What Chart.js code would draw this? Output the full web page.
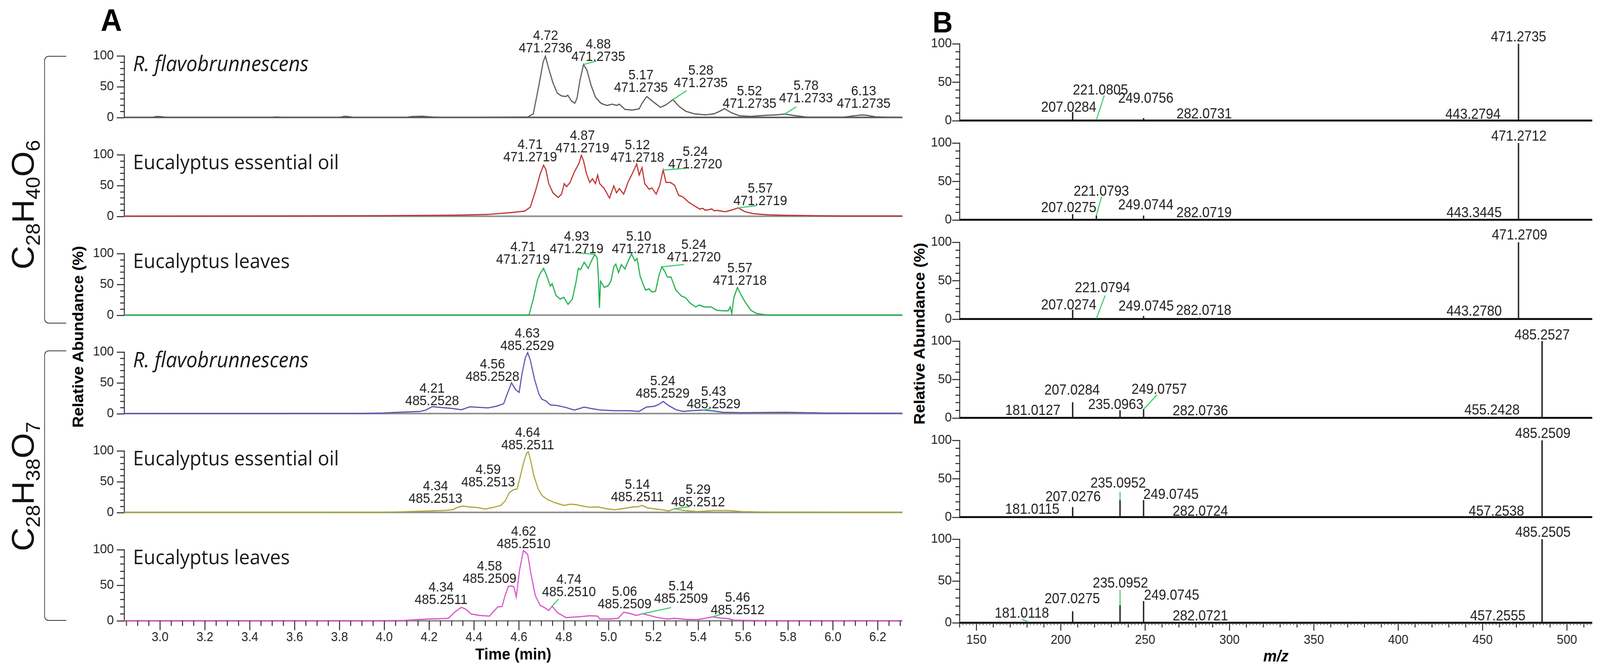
<!DOCTYPE html>
<html><head><meta charset="utf-8">
<script src="https://cdn.jsdelivr.net/npm/chart.js@4.4.1/dist/chart.umd.min.js"></script>
<style>
html,body{margin:0;padding:0;background:#fff;overflow:hidden;}
#fig{position:relative;width:4342px;height:1720px;overflow:hidden;background:#fff;transform-origin:0 0;}
canvas{position:absolute;}
.t{position:absolute;white-space:nowrap;color:#111;}
.s{font-size:62%;position:relative;top:0.32em;}
.br{position:absolute;border:2.5px solid #333;border-right:none;border-radius:12px 0 0 12px;}
</style></head><body><div id="fig"></div>
<script>
// ---------- DATA ----------
const timeTicks = [3.0,3.2,3.4,3.6,3.8,4.0,4.2,4.4,4.6,4.8,5.0,5.2,5.4,5.6,5.8,6.0,6.2];
const mzTicks = [150,200,250,300,350,400,450,500];
const abundanceTicks = [0,50,100];
const sampleNames = ["R. flavobrunnescens","Eucalyptus essential oil","Eucalyptus leaves","R. flavobrunnescens","Eucalyptus essential oil","Eucalyptus leaves"];
const formulaA = "C<span class='s'>28</span>H<span class='s'>40</span>O<span class='s'>6</span>";
const formulaB = "C<span class='s'>28</span>H<span class='s'>38</span>O<span class='s'>7</span>";

// chromatograms: [time (min), relative abundance (%)]
const traceA1 = [[2.84,0],[2.97,0],[2.98,1.5],[3.00,1.5],[3.02,0.5],[3.03,0],[3.50,0],[3.52,0.8],[3.54,0],[3.80,0],[3.82,1.8],[3.84,1.5],[3.86,0],[4.10,0],[4.12,1.5],[4.17,2],[4.22,0.5],[4.25,0],[4.40,0],[4.50,0.3],[4.60,0.5],[4.64,0.8],[4.664,5.9],[4.689,52],[4.708,90],[4.718,99.4],[4.733,79],[4.752,56],[4.771,39.5],[4.790,35],[4.809,34],[4.818,36],[4.834,27],[4.849,23],[4.859,31],[4.872,60],[4.888,86],[4.903,77],[4.922,52],[4.941,33],[4.966,23],[4.991,19.5],[5.017,21.6],[5.035,19.5],[5.048,21.6],[5.073,13],[5.105,12],[5.136,14],[5.149,23],[5.170,34],[5.193,27],[5.231,16.4],[5.256,20.6],[5.287,29],[5.312,18.5],[5.344,10],[5.382,5.9],[5.432,4.2],[5.470,5.9],[5.495,10],[5.516,14.3],[5.545,8],[5.583,2.7],[5.633,1.7],[5.697,3.4],[5.747,4.2],[5.785,5.5],[5.835,2.7],[5.885,0.6],[5.950,0.4],[6.050,0.5],[6.100,3],[6.130,4],[6.150,3.5],[6.190,1],[6.250,0.3],[6.310,0]];
const traceA2 = [[2.84,0.3],[3.5,0.5],[4.0,1],[4.2,1.5],[4.336,2],[4.462,3],[4.563,6],[4.626,8.4],[4.651,15],[4.676,44],[4.695,69],[4.710,83],[4.720,76],[4.733,53],[4.752,38],[4.775,30.5],[4.790,36],[4.802,53],[4.812,48],[4.828,55],[4.847,72],[4.859,80],[4.868,86],[4.878,99],[4.888,90.5],[4.901,69],[4.916,55],[4.928,61],[4.941,53],[4.951,67],[4.960,53],[4.979,46],[5.004,29.5],[5.023,49.5],[5.035,38],[5.048,45],[5.067,36],[5.086,55],[5.105,69],[5.125,85],[5.136,67],[5.149,79],[5.161,53],[5.180,44],[5.193,46],[5.212,36],[5.228,50.5],[5.243,75],[5.256,55],[5.275,55],[5.294,50.5],[5.312,34],[5.331,31.6],[5.356,23],[5.382,17],[5.407,11.6],[5.42,13],[5.43,10],[5.445,10.5],[5.46,12],[5.47,9],[5.483,9.5],[5.520,7.4],[5.552,10.5],[5.577,13.7],[5.608,7.4],[5.646,4.2],[5.709,2.5],[5.785,1.7],[5.911,1],[6.05,0.6],[6.31,0.5]];
const traceA3 = [[2.84,0],[4.64,0],[4.645,0.5],[4.664,26],[4.683,57.5],[4.695,68],[4.710,76],[4.724,64],[4.740,47],[4.748,51],[4.765,32],[4.784,26],[4.800,29],[4.819,17.5],[4.838,26],[4.853,51],[4.865,76],[4.875,74],[4.891,86],[4.909,76],[4.922,87],[4.938,98.5],[4.949,93],[4.954,64],[4.959,12],[4.964,55],[4.981,45],[4.998,48],[5.010,55],[5.023,78.5],[5.032,83],[5.044,69],[5.057,82],[5.073,75],[5.086,87],[5.102,99.6],[5.117,88],[5.127,92],[5.140,64],[5.155,49],[5.165,40.6],[5.180,42.7],[5.193,37.5],[5.209,38.5],[5.224,64],[5.237,78.5],[5.249,72],[5.262,61.7],[5.278,61.7],[5.300,40.6],[5.325,31],[5.344,28],[5.363,19.6],[5.388,13.3],[5.404,16.4],[5.426,13.3],[5.457,13.3],[5.482,8],[5.508,7],[5.533,7],[5.542,13.3],[5.549,2.7],[5.558,28],[5.574,45],[5.589,34],[5.608,21.7],[5.634,8],[5.659,2.7],[5.697,0.6],[5.72,0],[6.31,0]];
const traceA4 = [[2.84,0],[3.9,0.3],[4.0,1],[4.05,2],[4.085,2.5],[4.160,3.6],[4.185,5.7],[4.213,11.3],[4.248,10],[4.299,8.4],[4.343,6.3],[4.381,11],[4.425,10],[4.462,9.2],[4.500,12],[4.532,16],[4.550,34],[4.567,50],[4.585,39],[4.601,34.5],[4.614,65.5],[4.629,91],[4.639,99],[4.651,86.6],[4.670,55],[4.689,32],[4.702,23.5],[4.721,20.4],[4.740,14],[4.771,13],[4.809,10],[4.847,5.7],[4.891,10.5],[4.928,7.8],[4.966,5.7],[5.029,4.6],[5.092,4.6],[5.136,3.6],[5.168,10.5],[5.205,12],[5.224,15],[5.243,19.7],[5.268,13],[5.300,6.3],[5.331,3.6],[5.369,4.6],[5.420,5.7],[5.470,4.2],[5.508,2.1],[5.596,1.5],[5.785,2.1],[5.974,0.8],[6.31,0.5]];
const traceA5 = [[2.84,0],[4.0,0.3],[4.085,1],[4.198,2.4],[4.261,3],[4.305,4.4],[4.330,8.8],[4.349,10.4],[4.381,8.8],[4.412,8],[4.450,5.4],[4.488,8.4],[4.519,11.4],[4.538,18.4],[4.557,32],[4.576,37],[4.592,38],[4.603,54],[4.620,80],[4.635,97],[4.642,98.6],[4.654,82],[4.666,60],[4.686,38],[4.704,27],[4.727,21],[4.752,17],[4.777,14],[4.802,11.4],[4.828,13.4],[4.853,12.8],[4.884,10.4],[4.916,8.4],[4.954,9],[4.991,6],[5.029,4.4],[5.067,6.4],[5.105,8.8],[5.130,9.2],[5.149,11.4],[5.174,7.4],[5.212,5.4],[5.243,4],[5.268,2.4],[5.293,6],[5.331,3.4],[5.394,1.4],[5.470,3],[5.533,3],[5.596,1.4],[5.722,0.4],[6.31,0.3]];
const traceA6 = [[2.84,0.3],[4.0,0.3],[4.085,0.6],[4.198,2.6],[4.248,3],[4.286,3.6],[4.311,11.6],[4.343,19],[4.362,16.6],[4.387,9.6],[4.425,7.6],[4.469,6.6],[4.488,13.6],[4.506,19.6],[4.525,20],[4.538,35.5],[4.553,48.5],[4.569,49],[4.578,47.5],[4.588,33.5],[4.603,71.5],[4.620,99],[4.639,93.4],[4.654,65.5],[4.673,35.5],[4.695,21.6],[4.714,18.6],[4.733,14.6],[4.748,20.6],[4.771,11.6],[4.809,4.6],[4.865,5.6],[4.916,7.2],[4.951,6.6],[4.960,2.6],[5.004,2.6],[5.042,3.6],[5.067,12],[5.092,10.6],[5.124,7.6],[5.152,10],[5.180,7.6],[5.218,4.6],[5.262,2.6],[5.293,3.6],[5.344,2],[5.394,1.6],[5.432,3.6],[5.463,5.6],[5.495,4],[5.533,3.2],[5.558,1],[5.621,0.6],[5.7,0.3],[6.31,0.3]];

// chromatogram peak annotations: retention time text, m/z text, apex [time, abundance]
const rtA1 = ["4.72","4.88","5.17","5.28","5.52","5.78","6.13"];
const mzA1 = ["471.2736","471.2735","471.2735","471.2735","471.2735","471.2733","471.2735"];
const apexA1 = [[4.719,99.4],[4.888,86],[5.170,34],[5.287,29],[5.516,14.3],[5.785,5.5],[6.13,4]];
const rtA2 = ["4.71","4.87","5.12","5.24","5.57"];
const mzA2 = ["471.2719","471.2719","471.2718","471.2720","471.2719"];
const apexA2 = [[4.710,83],[4.878,99],[5.125,85],[5.243,75],[5.577,13.7]];
const rtA3 = ["4.71","4.93","5.10","5.24","5.57"];
const mzA3 = ["471.2719","471.2719","471.2718","471.2720","471.2718"];
const apexA3 = [[4.710,76],[4.938,98.5],[5.102,99.6],[5.237,78.5],[5.574,45]];
const rtA4 = ["4.21","4.56","4.63","5.24","5.43"];
const mzA4 = ["485.2528","485.2528","485.2529","485.2529","485.2529"];
const apexA4 = [[4.213,11.3],[4.567,50],[4.639,99],[5.243,19.7],[5.420,5.7]];
const rtA5 = ["4.34","4.59","4.64","5.14","5.29"];
const mzA5 = ["485.2513","485.2513","485.2511","485.2511","485.2512"];
const apexA5 = [[4.349,10.4],[4.592,38],[4.642,98.6],[5.149,11.4],[5.293,6]];
const rtA6 = ["4.34","4.58","4.62","4.74","5.06","5.14","5.46"];
const mzA6 = ["485.2511","485.2509","485.2510","485.2510","485.2509","485.2509","485.2512"];
const apexA6 = [[4.343,19],[4.569,49],[4.620,99],[4.748,20.6],[5.067,12],[5.152,10],[5.463,5.6]];

// mass spectra: [m/z, relative abundance (%)]
const sticksB1 = [[207.03,11],[221.08,1],[249.08,3],[282.07,1.2],[443.28,0.8],[471.27,100]];
const labelsB1 = ["207.0284","221.0805","249.0756","282.0731","443.2794","471.2735"];
const sticksB2 = [[207.03,7.3],[221.08,5.6],[249.07,5.4],[282.07,1],[443.34,0.8],[471.27,100]];
const labelsB2 = ["207.0275","221.0793","249.0744","282.0719","443.3445","471.2712"];
const sticksB3 = [[207.03,11.9],[221.08,0.8],[249.07,3.8],[282.07,1.5],[443.28,0.8],[471.27,100]];
const labelsB3 = ["207.0274","221.0794","249.0745","282.0718","443.2780","471.2709"];
const sticksB4 = [[181.01,1],[207.03,20.2],[235.10,9.8],[249.08,11.2],[282.07,1.2],[455.24,1],[485.25,100]];
const labelsB4 = ["181.0127","207.0284","235.0963","249.0757","282.0736","455.2428","485.2527"];
const sticksB5 = [[181.01,1],[207.03,13],[235.10,22],[249.07,22],[282.07,1],[457.25,1],[485.25,100]];
const labelsB5 = ["181.0115","207.0276","235.0952","249.0745","282.0724","457.2538","485.2509"];
const sticksB6 = [[181.01,1],[207.03,13.6],[235.10,21],[249.07,25.8],[282.07,1],[457.26,1],[485.25,100]];
const labelsB6 = ["181.0118","207.0275","235.0952","249.0745","282.0721","457.2555","485.2505"];

// ---------- LAYOUT (label anchors & leader ends, in data units) ----------
const posA1 = [[4.719,105.7],[4.954,92],[5.144,41.6],[5.411,49],[5.628,15.3],[5.880,24.8],[6.137,15.5]];
const leadA1 = [null,[4.945,91.5],null,[5.348,43.7],null,[5.837,17.4],null];
const posA2 = [[4.650,89.5],[4.883,104],[5.128,88.4],[5.386,78],[5.676,18]];
const leadA2 = [null,null,null,[5.342,78],[5.661,17.3]];
const posA3 = [[4.618,83.8],[4.857,100.6],[5.134,100.6],[5.380,87],[5.585,49]];
const leadA3 = [null,[4.870,101],null,[5.336,82.3],null];
const posA4 = [[4.213,14],[4.482,53],[4.637,103],[5.241,25.6],[5.468,8.8]];
const leadA4 = [null,null,null,null,[5.456,8.4]];
const posA5 = [[4.228,15.4],[4.463,42.3],[4.639,102.7],[5.128,18.4],[5.399,10]];
const leadA5 = [null,null,null,null,[5.361,9.4]];
const posA6 = [[4.253,23.5],[4.469,53.5],[4.621,102.4],[4.823,34.5],[5.071,17.6],[5.323,25.5],[5.575,9.6]];
const leadA6 = [null,null,null,[4.776,30.5],null,[5.279,18.6],[5.506,9.6]];
const posB1 = [[204.7,11.5],[223.5,34],[250.4,23],[285,3],[444.3,2.3],[471.3,102.8]];
const leadB1 = [null,[225.8,32.7],null,null,null,null];
const posB2 = [[204.7,10],[224,31.5],[250.4,13.7],[284.9,3.3],[445,3.4],[471.5,103]];
const leadB2 = [null,[224.2,30.4],null,null,null,null];
const posB3 = [[204.7,12.5],[224.7,35],[250.6,11],[284.7,5.6],[445,4.2],[471.9,103.4]];
const leadB3 = [null,[226.3,30.6],null,null,null,null];
const posB4 = [[183.4,4],[206.7,30.4],[232.6,11.7],[258.3,31.3],[282.7,3.6],[455.6,4.5],[485.3,102.2]];
const leadB4 = [null,null,null,[257,30],null,null,null];
const posB5 = [[183.1,4.2],[207.3,20.4],[234,38.2],[265.3,23.7],[282.7,1.8],[458.2,1.8],[485.7,103]];
const leadB5 = [null,null,[235.1,33],null,null,null,null];
const posB6 = [[176.9,6.3],[206.8,23.3],[235.3,42],[265.7,27.5],[282.7,2.9],[459,2.9],[485.8,103]];
const leadB6 = [[177,4],null,[235.1,39.3],null,null,null,null];

const LEFT_BASE = [325,578,831,1083,1336,1589];
const RIGHT_BASE = [326,580,834,1087,1341,1594];
const FF = "'Liberation Sans', Arial, sans-serif";
const LEADER = '#3fcf6c';
const fig = document.getElementById('fig');

// fit the 4342x1720 figure into the actual viewport
(function fit(){
  const vw = window.innerWidth || 4342, vh = window.innerHeight || 1720;
  const sx = vw/4342, sy = vh/1720;
  if (Math.abs(sx-1) > 0.002 || Math.abs(sy-1) > 0.002) fig.style.transform = 'scale('+sx+','+sy+')';
})();

function addCanvas(l,t,w,h){
  const c=document.createElement('canvas');
  c.width=w;c.height=h;
  c.style.left=l+'px';c.style.top=t+'px';c.style.width=w+'px';c.style.height=h+'px';
  fig.appendChild(c);return c;
}
function addText(html,css,cls){
  const d=document.createElement('div');d.className=cls||'t';d.innerHTML=html;
  Object.assign(d.style,css);fig.appendChild(d);return d;
}

function makeDecor(spec){
  return {
    id:'decor',
    beforeDatasetsDraw(chart){
      const {ctx,chartArea:a}=chart;const y=chart.scales.y;
      const y0=y.getPixelForValue(0);
      ctx.save();ctx.strokeStyle=spec.baseColor;ctx.lineWidth=spec.baseWidth;
      ctx.beginPath();ctx.moveTo(a.left,y0);ctx.lineTo(a.right,y0);ctx.stroke();ctx.restore();
    },
    afterDatasetsDraw(chart){
      const {ctx,chartArea:a}=chart;const x=chart.scales.x,y=chart.scales.y;
      ctx.save();
      ctx.strokeStyle='#222';ctx.lineWidth=2.5;
      for(let v=0;v<=100;v+=10){
        const py=Math.round(y.getPixelForValue(v))+0.5;const len=(v%50===0)?20:11;
        ctx.beginPath();ctx.moveTo(a.left-len,py);ctx.lineTo(a.left,py);ctx.stroke();
      }
      if(spec.bottom){
        const y0=y.getPixelForValue(0);
        ctx.lineWidth=2.5;
        if(spec.kind==='chrom'){
          for(let k=57;k<=126;k++){
            const px=x.getPixelForValue(k*0.05);const len=(k%4===0)?24:13;
            ctx.beginPath();ctx.moveTo(px,y0);ctx.lineTo(px,y0+len);ctx.stroke();
          }
        } else {
          for(let m=140;m<=514;m+=2){
            const px=x.getPixelForValue(m);const len=(m%50===0)?20:((m%10===0)?12:6);
            ctx.lineWidth=(m%10===0)?2.5:1.6;
            ctx.beginPath();ctx.moveTo(px,y0);ctx.lineTo(px,y0+len);ctx.stroke();
          }
        }
      }
      ctx.strokeStyle=LEADER;ctx.lineWidth=3;
      spec.labels.forEach(L=>{
        if(L.lead){
          ctx.beginPath();
          ctx.moveTo(x.getPixelForValue(L.apex[0]),y.getPixelForValue(L.apex[1]));
          ctx.lineTo(x.getPixelForValue(L.lead[0]),y.getPixelForValue(L.lead[1]));
          ctx.stroke();
        }
      });
      ctx.fillStyle='#1e1e1e';ctx.font=spec.lblFont;ctx.textAlign='center';ctx.textBaseline='alphabetic';
      spec.labels.forEach(L=>{
        const px=x.getPixelForValue(L.at[0]),py=y.getPixelForValue(L.at[1]);
        const n=L.lines.length;
        L.lines.forEach((s,k)=>ctx.fillText(s,px,py-(n-1-k)*spec.gap));
      });
      ctx.restore();
    }
  };
}

function yScale(width,pad){
  return {min:0,max:100,
    afterBuildTicks:s=>{s.ticks=abundanceTicks.map(v=>({value:v}));},
    grid:{display:false,drawTicks:false},
    border:{display:true,color:'#222',width:2.5},
    ticks:{padding:pad,color:'#222',font:{family:FF,size:34},callback:v=>String(v)},
    afterFit:s=>{s.width=width;}};
}

function chromChart(i,trace,color,rts,mzs,apex,pos,lead){
  const bottom=(i===5);const padTop=110,H=182;
  const top=LEFT_BASE[i]-H-padTop;const cl=150,cw=2339;
  const ch=bottom?1720-top:H+padTop+24;
  const cv=addCanvas(cl,top,cw,ch);
  const spec={kind:'chrom',bottom,baseColor:(i===0?'#555':'#8c8c8c'),baseWidth:4,
    lblFont:"35px "+FF,gap:32,
    labels:rts.map((r,k)=>({lines:[r,mzs[k]],at:pos[k],apex:apex[k],lead:lead[k]}))};
  const xs={type:'linear',min:2.84,max:6.31,display:bottom,
          afterBuildTicks:s=>{s.ticks=timeTicks.map(v=>({value:v}));},
          grid:{display:false,drawTicks:false},border:{display:false},
          ticks:{padding:23,autoSkip:false,maxRotation:0,color:'#222',font:{family:FF,size:33},callback:v=>Number(v).toFixed(1)},
          title:{display:true,text:'Time (min)',color:'#000',font:{family:FF,size:41,weight:'bold'},padding:{top:0,bottom:19}}};
  if(bottom) xs.afterFit=s=>{s.height=131;};
  new Chart(cv,{type:'line',
    data:{datasets:[{data:trace.map(p=>({x:p[0],y:p[1]})),borderColor:color,borderWidth:3,pointRadius:0,tension:0,fill:false,clip:false}]},
    options:{responsive:false,animation:false,devicePixelRatio:1,
      layout:{padding:{top:padTop,right:40,bottom:bottom?0:24,left:0}},
      plugins:{legend:{display:false},tooltip:{enabled:false}},
      scales:{x:xs,y:yScale(187,28)}},
    plugins:[makeDecor(spec)]});
}

function specChart(i,sticks,labels,pos,lead){
  const bottom=(i===5);const padTop=60,H=214;
  const top=RIGHT_BASE[i]-H-padTop;const cl=2510,cw=1832;
  const ch=bottom?1720-top:H+padTop+24;
  const cv=addCanvas(cl,top,cw,ch);
  const spec={kind:'ms',bottom,baseColor:'#111',baseWidth:5,lblFont:"36px "+FF,gap:0,
    labels:labels.map((s,k)=>({lines:[s],at:pos[k],apex:sticks[k],lead:lead[k]}))};
  const xs={type:'linear',min:140,max:515,offset:false,display:bottom,
          afterBuildTicks:s=>{s.ticks=mzTicks.map(v=>({value:v}));},
          grid:{display:false,drawTicks:false},border:{display:false},
          ticks:{padding:25,autoSkip:false,maxRotation:0,color:'#222',font:{family:FF,size:33},callback:v=>String(v)},
          title:{display:true,text:'m/z',color:'#000',font:{family:FF,size:41,weight:'bold',style:'italic'},padding:{top:0,bottom:14}}};
  if(bottom) xs.afterFit=s=>{s.height=126;};
  new Chart(cv,{type:'bar',
    data:{datasets:[{data:sticks.map(p=>({x:p[0],y:p[1]})),backgroundColor:'#1a1a1a',barThickness:3,borderWidth:0}]},
    options:{responsive:false,animation:false,devicePixelRatio:1,
      layout:{padding:{top:padTop,right:21,bottom:bottom?0:24,left:0}},
      plugins:{legend:{display:false},tooltip:{enabled:false}},
      scales:{x:xs,y:yScale(94,21)}},
    plugins:[makeDecor(spec)]});
}

// ---------- static text ----------
addText('A',{left:'302px',top:'52px',transform:'translate(-50%,-50%)',font:'bold 80px '+FF,lineHeight:'1',color:'#000'});
addText('B',{left:'2558px',top:'57px',transform:'translate(-50%,-50%)',font:'bold 76px '+FF,lineHeight:'1',color:'#000'});
addText(formulaA,{left:'62px',top:'524px',transform:'translate(-50%,-50%) rotate(-90deg)',font:'84px '+FF,lineHeight:'1'});
addText(formulaB,{left:'62px',top:'1245px',transform:'translate(-50%,-50%) rotate(-90deg)',font:'84px '+FF,lineHeight:'1'});
addText('Relative Abundance (%)',{left:'212px',top:'862px',transform:'translate(-50%,-50%) rotate(-90deg)',font:'bold 41px '+FF,lineHeight:'1',color:'#000'});
addText('Relative Abundance (%)',{left:'2496px',top:'854px',transform:'translate(-50%,-50%) rotate(-90deg)',font:'bold 41px '+FF,lineHeight:'1',color:'#000'});
addText('',{left:'120px',top:'143px',width:'58px',height:'681px'},'br');
addText('',{left:'120px',top:'897px',width:'58px',height:'688px'},'br');
sampleNames.forEach((n,i)=>{
  addText(n,{left:'361px',top:(LEFT_BASE[i]-182-9)+'px',font:((i%3===0)?'italic 54px ':'52px ')+"'Open Sans', sans-serif",lineHeight:'1',color:'#1a1a1a'});
});

// ---------- charts ----------
const chromColors=['#5a5a5a','#c0302e','#1db04a','#5555b5','#a9a53a','#d653c9'];
chromChart(0,traceA1,chromColors[0],rtA1,mzA1,apexA1,posA1,leadA1);
chromChart(1,traceA2,chromColors[1],rtA2,mzA2,apexA2,posA2,leadA2);
chromChart(2,traceA3,chromColors[2],rtA3,mzA3,apexA3,posA3,leadA3);
chromChart(3,traceA4,chromColors[3],rtA4,mzA4,apexA4,posA4,leadA4);
chromChart(4,traceA5,chromColors[4],rtA5,mzA5,apexA5,posA5,leadA5);
chromChart(5,traceA6,chromColors[5],rtA6,mzA6,apexA6,posA6,leadA6);
specChart(0,sticksB1,labelsB1,posB1,leadB1);
specChart(1,sticksB2,labelsB2,posB2,leadB2);
specChart(2,sticksB3,labelsB3,posB3,leadB3);
specChart(3,sticksB4,labelsB4,posB4,leadB4);
specChart(4,sticksB5,labelsB5,posB5,leadB5);
specChart(5,sticksB6,labelsB6,posB6,leadB6);
</script></body></html>
